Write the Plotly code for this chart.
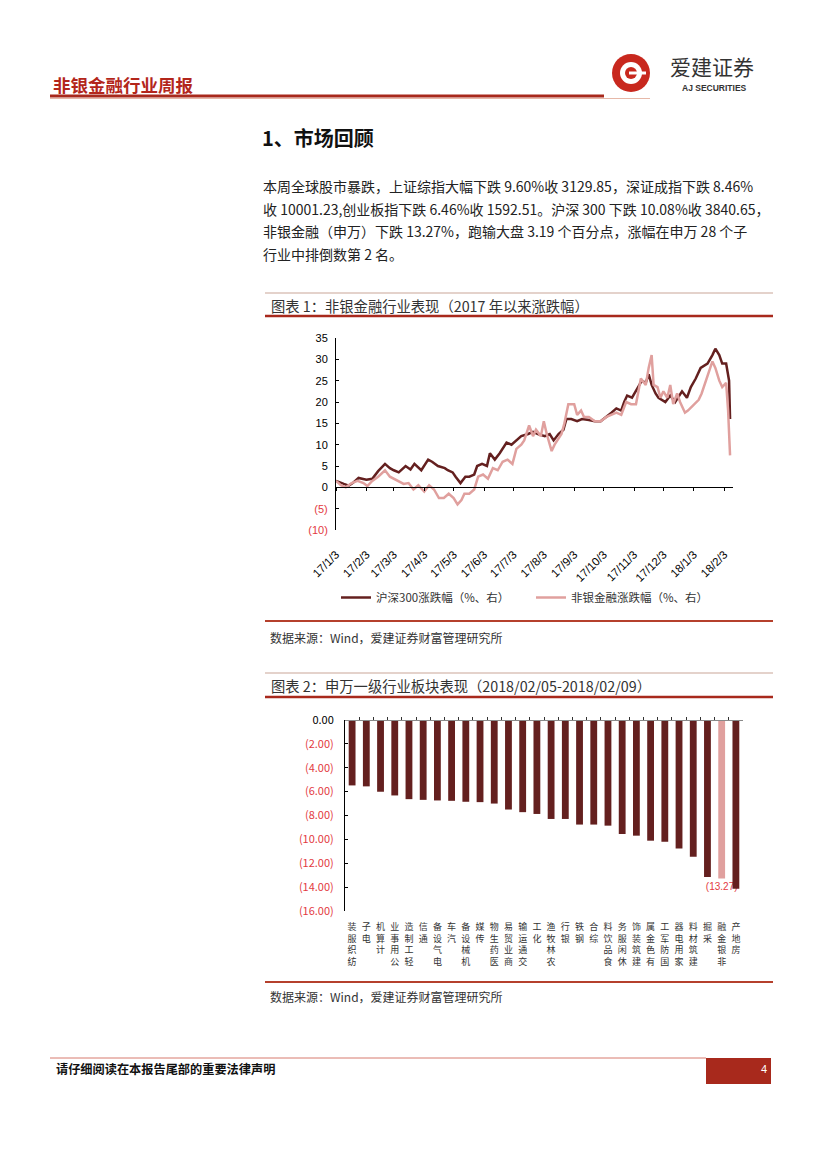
import plotly.graph_objects as go

# ---------------- data ----------------
hs300_dates = [
    "2017-01-03", "2017-01-06", "2017-01-11", "2017-01-16", "2017-01-20", "2017-01-26",
    "2017-02-03", "2017-02-09", "2017-02-15", "2017-02-22", "2017-02-27",
    "2017-03-03", "2017-03-08", "2017-03-15", "2017-03-20", "2017-03-24", "2017-03-31",
    "2017-04-07", "2017-04-11", "2017-04-17", "2017-04-24", "2017-04-27",
    "2017-05-02", "2017-05-05", "2017-05-10", "2017-05-15", "2017-05-19", "2017-05-24", "2017-05-27",
    "2017-06-01", "2017-06-06", "2017-06-09", "2017-06-14", "2017-06-19", "2017-06-26",
    "2017-07-01", "2017-07-06", "2017-07-11", "2017-07-18", "2017-07-23", "2017-07-28",
    "2017-08-04", "2017-08-09", "2017-08-13", "2017-08-18", "2017-08-23", "2017-08-26", "2017-08-31",
    "2017-09-06", "2017-09-11", "2017-09-18", "2017-09-24", "2017-09-30",
    "2017-10-06", "2017-10-11", "2017-10-16", "2017-10-21", "2017-10-24", "2017-10-27",
    "2017-11-01", "2017-11-06", "2017-11-11", "2017-11-15", "2017-11-18", "2017-11-21", "2017-11-25", "2017-11-28",
    "2017-12-05", "2017-12-10", "2017-12-15", "2017-12-22", "2017-12-27", "2017-12-31",
    "2018-01-05", "2018-01-10", "2018-01-17", "2018-01-22", "2018-01-25", "2018-01-29",
    "2018-02-01", "2018-02-05", "2018-02-07", "2018-02-08", "2018-02-09",
]
hs300_values = [
    1.5, 1.2, 0.8, 0.4, 1.0, 2.2,
    1.8, 2.0, 3.8, 5.5, 4.5,
    4.0, 3.5, 5.0, 4.2, 5.5, 4.0,
    6.5, 6.0, 5.0, 4.5, 4.0,
    3.5, 2.5, 1.0, 2.5, 2.5, 3.0, 5.0,
    5.5, 5.0, 8.0, 6.5, 8.0, 10.5,
    10.0, 11.0, 12.0, 12.5, 13.0, 12.5,
    12.0, 12.5, 11.0, 12.5, 13.5, 16.0, 16.0,
    15.5, 16.0, 15.8, 15.5, 15.5,
    16.5, 17.5, 18.5, 18.0, 20.0, 21.5,
    21.0, 23.0, 25.0, 24.5, 26.5, 24.0, 22.0, 21.0,
    20.0, 21.5, 20.0, 22.5, 21.0, 23.5,
    25.5, 28.0, 29.0, 31.0, 32.5, 31.0,
    29.0, 29.0, 26.0, 25.0, 16.0,
]

nonbank_dates = [
    "2017-01-03", "2017-01-08", "2017-01-13", "2017-01-19", "2017-01-25", "2017-01-31",
    "2017-02-04", "2017-02-09", "2017-02-15", "2017-02-22", "2017-02-27",
    "2017-03-03", "2017-03-08", "2017-03-13", "2017-03-18", "2017-03-23", "2017-03-28",
    "2017-04-03", "2017-04-08", "2017-04-13", "2017-04-18", "2017-04-23", "2017-04-28",
    "2017-05-03", "2017-05-07", "2017-05-11", "2017-05-14", "2017-05-19", "2017-05-24", "2017-05-28",
    "2017-06-02", "2017-06-07", "2017-06-12", "2017-06-17", "2017-06-22", "2017-06-27",
    "2017-07-02", "2017-07-06", "2017-07-11", "2017-07-14", "2017-07-19", "2017-07-23", "2017-07-26", "2017-07-31",
    "2017-08-03", "2017-08-06", "2017-08-11", "2017-08-14", "2017-08-21", "2017-08-24", "2017-08-28",
    "2017-09-03", "2017-09-06", "2017-09-10", "2017-09-13", "2017-09-18", "2017-09-24", "2017-09-30",
    "2017-10-06", "2017-10-11", "2017-10-16", "2017-10-21", "2017-10-26", "2017-10-31",
    "2017-11-05", "2017-11-10", "2017-11-15", "2017-11-18", "2017-11-21", "2017-11-23", "2017-11-27", "2017-11-30",
    "2017-12-03", "2017-12-07", "2017-12-10", "2017-12-13", "2017-12-17", "2017-12-20", "2017-12-25", "2017-12-28",
    "2018-01-03", "2018-01-08", "2018-01-11", "2018-01-17", "2018-01-22", "2018-01-25", "2018-01-29",
    "2018-02-01", "2018-02-05", "2018-02-07", "2018-02-09",
]
nonbank_values = [
    1.5, 0.5, 0.0, 1.0, 1.5, 1.0,
    0.3, 1.5, 2.5, 4.0, 2.5,
    2.0, 1.5, 0.8, 1.0, -0.5, 0.5,
    -1.0, 0.5, -0.5, -2.5, -2.5, -1.5,
    -2.5, -4.0, -3.0, -1.5, -1.5, -0.5, 2.5,
    3.0, 2.0, 4.5, 4.0, 6.0, 6.5,
    5.5, 9.0, 10.0, 11.0, 14.5, 12.0, 13.5, 12.0,
    15.5, 12.5, 8.5, 10.0, 12.5, 15.0, 19.5,
    19.5, 17.0, 18.0, 16.5, 16.5, 15.5, 15.5,
    16.5, 17.0, 17.5, 17.0, 20.0, 19.5,
    19.5, 25.5, 24.0, 28.0, 31.0, 24.0, 23.5, 21.0,
    22.5, 21.0, 24.0, 19.5, 22.0, 20.0, 17.5, 18.0,
    19.5, 20.5, 22.0, 26.0, 29.5, 28.0, 25.0,
    23.5, 24.5, 18.0, 7.5,
]

chart1_tick_dates = [
    "2017-01-03", "2017-02-03", "2017-03-03", "2017-04-03", "2017-05-03", "2017-06-03", "2017-07-03",
    "2017-08-03", "2017-09-03", "2017-10-03", "2017-11-03", "2017-12-03", "2018-01-03", "2018-02-03",
]
chart1_tick_labels = [
    "17/1/3", "17/2/3", "17/3/3", "17/4/3", "17/5/3", "17/6/3", "17/7/3",
    "17/8/3", "17/9/3", "17/10/3", "17/11/3", "17/12/3", "18/1/3", "18/2/3",
]
chart1_y_ticks = [35, 30, 25, 20, 15, 10, 5, 0, -5, -10]
chart1_y_labels = ["35", "30", "25", "20", "15", "10", "5", "0", "(5)", "(10)"]
series_names = ["沪深300涨跌幅（%、右）", "非银金融涨跌幅（%、右）"]

industries = [
    "纺织服装", "电子", "计算机", "公用事业", "轻工制造", "通信", "电气设备", "汽车",
    "机械设备", "传媒", "医药生物", "商业贸易", "交通运输", "化工", "农林牧渔", "银行",
    "钢铁", "综合", "食品饮料", "休闲服务", "建筑装饰", "有色金属", "国防军工", "家用电器",
    "建筑材料", "采掘", "非银金融", "房地产",
]
weekly_change = [
    -5.48, -5.56, -6.01, -6.32, -6.63, -6.69, -6.74, -6.77,
    -6.85, -6.88, -7.00, -7.50, -7.72, -7.87, -8.29, -8.29,
    -8.76, -8.76, -8.85, -9.55, -9.69, -10.11, -10.20, -10.76,
    -11.46, -13.15, -13.27, -14.13,
]
highlight_industry = "非银金融"
chart2_y_ticks = [0, -2, -4, -6, -8, -10, -12, -14, -16]
chart2_y_labels = ["0.00", "(2.00)", "(4.00)", "(6.00)", "(8.00)", "(10.00)", "(12.00)", "(14.00)", "(16.00)"]

paragraph_lines = [
    "本周全球股市暴跌，上证综指大幅下跌 9.60%收 3129.85，深证成指下跌 8.46%",
    "收 10001.23,创业板指下跌 6.46%收 1592.51。沪深 300 下跌 10.08%收 3840.65，",
    "非银金融（申万）下跌 13.27%，跑输大盘 3.19 个百分点，涨幅在申万 28 个子",
    "行业中排倒数第 2 名。",
]

# ---------------- styling helpers ----------------
W, H = 827, 1169
CJK = "Noto Sans CJK SC"
ARIAL = "Liberation Sans, Arial"
DARK = "#64201f"
PINK = "#e0a09e"
BRICK = "#a8291c"
RED_TXT = "#e33a3f"


def px(x):
    return x / W


def py(y):
    return 1 - y / H


def red_if_neg(vals, labels):
    return [f"<span style='color:{RED_TXT}'>{t}</span>" if v < 0 else t for v, t in zip(vals, labels)]


def vertical_label(name):
    # characters stacked upright, read from bottom to top
    return "<br>".join(reversed(list(name)))


fig = go.Figure()

# chart 1 lines
fig.add_trace(go.Scatter(x=hs300_dates, y=hs300_values, mode="lines", name=series_names[0],
                         line=dict(color=DARK, width=2.5), xaxis="x", yaxis="y"))
fig.add_trace(go.Scatter(x=nonbank_dates, y=nonbank_values, mode="lines", name=series_names[1],
                         line=dict(color=PINK, width=2.5), xaxis="x", yaxis="y"))

# chart 2 bars
bar_colors = [PINK if n == highlight_industry else DARK for n in industries]
bar_text = [f"({abs(v):.2f})" if n == highlight_industry else "" for n, v in zip(industries, weekly_change)]
fig.add_trace(go.Bar(x=industries, y=weekly_change, marker=dict(color=bar_colors, line=dict(width=0)),
                     text=bar_text, textposition="outside", cliponaxis=False, constraintext="none",
                     textfont=dict(color=RED_TXT, size=10, family=ARIAL),
                     showlegend=False, xaxis="x2", yaxis="y2"))

# domains
c1_y = [py(530), py(338)]
c1_zero = c1_y[0] + (c1_y[1] - c1_y[0]) * (0 - (-10)) / 45
c2_y = [py(911), py(720)]

fig.update_layout(
    width=W, height=H, autosize=False,
    margin=dict(l=0, r=0, t=0, b=0, pad=0),
    paper_bgcolor="white", plot_bgcolor="white",
    bargap=0.52,
    xaxis=dict(domain=[px(336), px(733)], anchor="free", position=c1_zero, type="date",
               range=["2017-01-03", "2018-02-12"], tickvals=chart1_tick_dates, ticktext=chart1_tick_labels,
               tickangle=-45, ticks="outside", ticklen=3, tickcolor="black", showline=True, linecolor="black",
               linewidth=1, showgrid=False, zeroline=False, ticklabelstandoff=52, automargin=False,
               tickfont=dict(family=ARIAL, size=11.5, color="black")),
    yaxis=dict(domain=c1_y, anchor="x", range=[-10, 35], tickvals=chart1_y_ticks,
               ticktext=red_if_neg(chart1_y_ticks, chart1_y_labels), ticks="inside", ticklen=3,
               tickcolor="black", showline=True, linecolor="black", linewidth=1, showgrid=False,
               zeroline=False, automargin=False, ticklabelstandoff=5,
               tickfont=dict(family=ARIAL, size=11, color="black")),
    xaxis2=dict(domain=[px(345), px(743)], anchor="free", position=c2_y[1], type="category",
                range=[-0.5, len(industries) - 0.5], tickvals=industries,
                ticktext=[vertical_label(n) for n in industries], tickangle=0,
                ticks="inside", tickson="boundaries", ticklen=3, tickcolor="#333",
                showline=True, linecolor="#8a8a8a", linewidth=1, showgrid=False, zeroline=False,
                ticklabelstandoff=198, automargin=False, tickfont=dict(family=CJK, size=9, color="#333")),
    yaxis2=dict(domain=c2_y, anchor="x2", range=[-16, 0], tickvals=chart2_y_ticks,
                ticktext=red_if_neg(chart2_y_ticks, chart2_y_labels), ticks="inside", ticklen=3,
                tickcolor="black", showline=True, linecolor="black", linewidth=1, showgrid=False,
                zeroline=False, automargin=False, ticklabelstandoff=8,
                tickfont=dict(family=CJK, size=11, color="black")),
    legend=dict(orientation="h", x=px(336), y=py(583), xanchor="left", yanchor="top",
                entrywidth=150, entrywidthmode="pixels", font=dict(family=CJK, size=11.5, color="#333"),
                bgcolor="rgba(0,0,0,0)", itemwidth=30),
    showlegend=True,
)

shapes = []


def hline(x0, x1, y, color, width):
    shapes.append(dict(type="line", xref="paper", yref="paper", x0=px(x0), x1=px(x1), y0=py(y), y1=py(y),
                       line=dict(color=color, width=width)))


# header
hline(50, 650, 98.5, "#e6b8a8", 1)
hline(50, 604, 96, BRICK, 3)
# logo icon
shapes.append(dict(type="circle", xref="paper", yref="paper", x0=px(612), x1=px(650), y0=py(92), y1=py(54),
                   fillcolor="#c8281e", line=dict(width=0)))
shapes.append(dict(type="circle", xref="paper", yref="paper", x0=px(620), x1=px(642), y0=py(84), y1=py(62),
                   fillcolor="white", line=dict(width=0)))
shapes.append(dict(type="circle", xref="paper", yref="paper", x0=px(625), x1=px(637), y0=py(79), y1=py(67),
                   fillcolor="#c8281e", line=dict(width=0)))
shapes.append(dict(type="rect", xref="paper", yref="paper", x0=px(629), x1=px(646), y0=py(74.5), y1=py(71.5),
                   fillcolor="white", line=dict(width=0)))
# chart 1 frame
hline(265, 773, 293, "#c9a597", 1)
hline(265, 773, 316, BRICK, 2.5)
hline(265, 773, 621, "#b5402c", 2)
# chart 2 frame
hline(265, 773, 673, "#c9a597", 1)
hline(265, 773, 697, BRICK, 2.5)
hline(265, 773, 982, "#b5402c", 2)
# footer
hline(50, 706, 1058, "#d77a6e", 1)
shapes.append(dict(type="rect", xref="paper", yref="paper", x0=px(706), x1=px(771), y0=py(1084), y1=py(1058),
                   fillcolor=BRICK, line=dict(width=0)))

annotations = []


def text(x, y, s, size, color="#222", family=CJK, xanchor="left"):
    annotations.append(dict(xref="paper", yref="paper", x=px(x), y=py(y), text=s, showarrow=False,
                            xanchor=xanchor, yanchor="middle", font=dict(family=family, size=size, color=color)))


text(51, 84, "<b>非银金融行业周报</b>", 17.5, "#b3261b")
text(712, 66, "爱建证券", 21, "#333", xanchor="center")
text(714, 88.5, "<b>AJ SECURITIES</b>", 8.5, "#333", family=ARIAL, xanchor="center")
text(260, 137, "<b>1、市场回顾</b>", 20, "#111")
for i, line in enumerate(paragraph_lines):
    text(261, 186 + i * 22.7, line, 14, "#222")
text(269, 305, "图表 1：非银金融行业表现（2017 年以来涨跌幅）", 14.3, "#333")
text(268, 637, "数据来源：Wind，爱建证券财富管理研究所", 12, "#333")
text(269, 685, "图表 2：申万一级行业板块表现（2018/02/05-2018/02/09）", 14.3, "#333")
text(268, 996, "数据来源：Wind，爱建证券财富管理研究所", 12, "#333")
text(54, 1069, "<b>请仔细阅读在本报告尾部的重要法律声明</b>", 12.2, "#111")
text(764, 1069, "4", 11, "white", family=ARIAL, xanchor="center")

fig.update_layout(shapes=shapes, annotations=annotations)

fig.write_html("out.html", config={"displayModeBar": False},
               post_script="document.body.style.margin='0';document.body.style.overflow='hidden';")
